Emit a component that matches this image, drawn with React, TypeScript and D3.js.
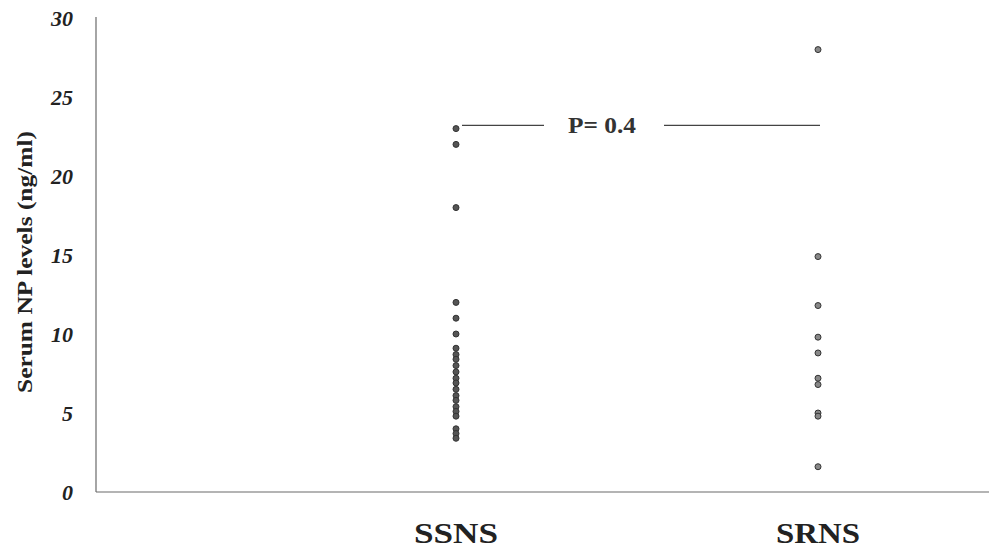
import { useEffect, useRef } from "react";
import * as d3 from "d3";

// groups on the x axis
const groups = ["SSNS", "SRNS"];

// serum NP levels (ng/ml)
const ssnsValues = [
  23, 22, 18, 12, 11, 10,
  9.1, 8.7, 8.4, 8.0, 7.6, 7.2, 6.9,
  6.5, 6.1, 5.8, 5.4, 5.1, 4.8,
  4.0, 3.7, 3.4,
];
const srnsValues = [28, 14.9, 11.8, 9.8, 8.8, 7.2, 6.8, 5.0, 4.8, 1.6];

const yTicks = [0, 5, 10, 15, 20, 25, 30];
const pLabel = "P= 0.4";
const pLevel = 23.2;

const serif = "Liberation Serif, Times New Roman, serif";

export default function App() {
  const svgRef = useRef<SVGSVGElement | null>(null);

  useEffect(() => {
    const svgEl = svgRef.current;
    if (!svgEl) return;
    const root = d3.select(svgEl);
    root.selectAll("*").remove();

    const width = 989;
    const height = 551;
    const left = 96;
    const top = 18;
    const bottom = 492;

    const x = d3.scalePoint<string>().domain(groups).range([456, 818]);
    const y = d3.scaleLinear().domain([0, 30]).range([bottom, top]);

    root.attr("width", width).attr("height", height);

    root.append("rect").attr("width", width).attr("height", height).attr("fill", "#fff");

    // axes lines
    root.append("line")
      .attr("x1", left).attr("x2", left)
      .attr("y1", top - 1).attr("y2", bottom)
      .attr("stroke", "#6a6a6a").attr("stroke-width", 1.2);
    root.append("line")
      .attr("x1", left).attr("x2", width)
      .attr("y1", bottom).attr("y2", bottom)
      .attr("stroke", "#6a6a6a").attr("stroke-width", 1.2);

    // y tick labels
    root.append("g")
      .selectAll("text")
      .data(yTicks)
      .join("text")
      .attr("x", 73)
      .attr("y", (d) => y(d))
      .attr("dy", "0.35em")
      .attr("text-anchor", "end")
      .attr("font-family", serif)
      .attr("font-style", "italic")
      .attr("font-weight", "bold")
      .attr("font-size", 22)
      .attr("fill", "#222")
      .text((d) => d);

    // y title
    root.append("text")
      .attr("transform", `translate(24,262) rotate(-90)`)
      .attr("text-anchor", "middle")
      .attr("dy", "0.35em")
      .attr("font-family", serif)
      .attr("font-weight", "bold")
      .attr("font-size", 22)
      .attr("textLength", 262)
      .attr("lengthAdjust", "spacingAndGlyphs")
      .attr("fill", "#222")
      .text("Serum NP levels (ng/ml)");

    // x labels
    root.append("g")
      .selectAll("text")
      .data(groups)
      .join("text")
      .attr("x", (d) => x(d) as number)
      .attr("y", 543)
      .attr("text-anchor", "middle")
      .attr("font-family", serif)
      .attr("font-weight", "bold")
      .attr("font-size", 29)
      .attr("textLength", 84)
      .attr("lengthAdjust", "spacingAndGlyphs")
      .attr("fill", "#222")
      .text((d) => d);

    // significance line
    const x1 = x("SSNS") as number;
    const x2 = x("SRNS") as number;
    const mid = 602;
    root.append("line")
      .attr("x1", x1 + 6).attr("x2", mid - 58)
      .attr("y1", y(pLevel)).attr("y2", y(pLevel))
      .attr("stroke", "#444").attr("stroke-width", 1.2);
    root.append("line")
      .attr("x1", mid + 62).attr("x2", x2 + 2)
      .attr("y1", y(pLevel)).attr("y2", y(pLevel))
      .attr("stroke", "#444").attr("stroke-width", 1.2);
    root.append("text")
      .attr("x", mid)
      .attr("y", y(pLevel))
      .attr("dy", "0.35em")
      .attr("text-anchor", "middle")
      .attr("font-family", serif)
      .attr("font-weight", "bold")
      .attr("font-size", 23)
      .attr("textLength", 68)
      .attr("lengthAdjust", "spacingAndGlyphs")
      .attr("fill", "#333")
      .text(pLabel);

    // points
    const series = [
      { group: "SSNS", values: ssnsValues },
      { group: "SRNS", values: srnsValues },
    ];
    series.forEach((s) => {
      root.append("g")
        .selectAll("circle")
        .data(s.values)
        .join("circle")
        .attr("cx", x(s.group) as number)
        .attr("cy", (d) => y(d))
        .attr("r", 3)
        .attr("fill", s.group === "SSNS" ? "#555" : "#888")
        .attr("stroke", "#333")
        .attr("stroke-width", 1);
    });
  }, []);

  return (
    <div style={{ position: "absolute", left: 0, top: 0 }}>
      <svg ref={svgRef} style={{ display: "block" }} />
    </div>
  );
}
